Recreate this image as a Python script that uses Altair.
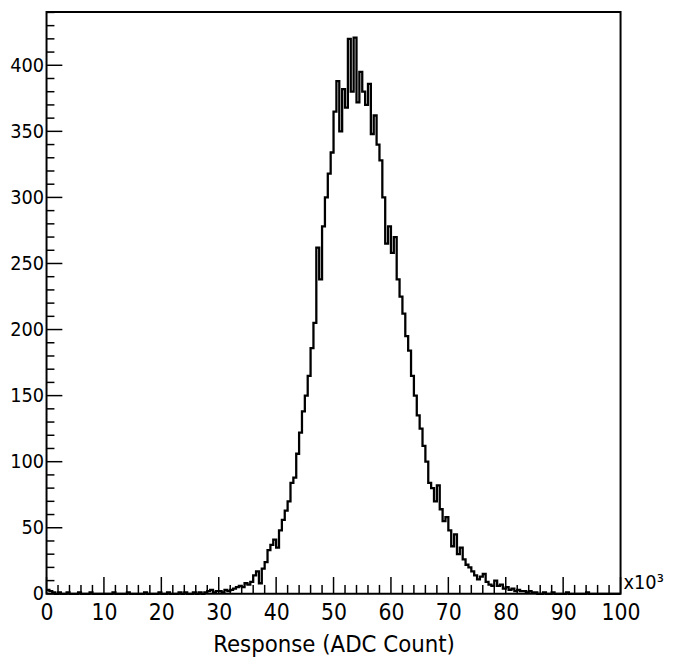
import altair as alt
import pandas as pd

# Histogram: 200 bins of width 0.5 (x10^3 ADC counts) from 0 to 100
bin_width = 0.5
counts = [
    # 0 - 10
    3, 2, 1, 0, 1, 0, 0, 1, 0, 0, 0, 1, 0, 0, 0, 1, 0, 0, 0, 0,
    # 10 - 20
    0, 0, 0, 1, 0, 0, 0, 0, 1, 0, 0, 0, 0, 0, 1, 0, 0, 0, 0, 1,
    # 20 - 28
    0, 0, 1, 0, 0, 0, 1, 0, 1, 0, 0, 1, 0, 1, 0, 1,
    # 28 - 86
    2, 3, 1, 2,
    2, 1, 3, 2,
    3, 4, 5, 6,
    5, 8, 7, 9,
    14, 17, 8, 19,
    24, 33, 37, 41,
    35, 48, 56, 63,
    70, 84, 88, 106,
    122, 138, 150, 165,
    186, 205, 262, 238,
    278, 300, 318, 334,
    365, 388, 350, 382,
    368, 420, 380, 421,
    372, 395, 380, 370,
    386, 348, 362, 340,
    328, 300, 265, 278,
    258, 270, 238, 225,
    212, 195, 184, 165,
    150, 135, 125, 112,
    100, 84, 80, 70,
    82, 64, 55, 58,
    48, 36, 45, 30,
    35, 26, 22, 20,
    17, 14, 11, 13,
    15, 9, 7, 6,
    10, 6, 7, 4,
    5, 3, 4, 2,
    3, 2, 2, 1,
    2, 1, 1, 0,
    # 86 - 100
    0, 1, 0, 0, 1, 0, 0, 0, 0, 1, 0, 0, 0, 0,
    0, 0, 1, 0, 0, 0, 0, 0, 0, 0, 0, 0, 0, 0,
]

x_major = [0, 10, 20, 30, 40, 50, 60, 70, 80, 90, 100]
x_minor = [v for v in range(0, 101, 2) if v % 10 != 0]
y_major = [0, 50, 100, 150, 200, 250, 300, 350, 400]
y_minor = [v for v in range(0, 441, 10) if v % 50 != 0]

x_domain = [0, 100]
y_domain = [0, 440.4]

W, H = 581, 589
FONT = "DejaVu Sans Condensed, Liberation Sans Narrow, Liberation Sans, sans-serif"

edges = [i * bin_width for i in range(len(counts) + 1)]
hist = pd.DataFrame({"x": edges, "count": counts + [counts[-1]]})

xs = alt.Scale(domain=x_domain, nice=False, zero=False)
ys = alt.Scale(domain=y_domain, nice=False)

line = alt.Chart(hist).mark_line(
    interpolate="step-after", color="black", strokeWidth=2.3
).encode(
    x=alt.X("x:Q", scale=xs,
            axis=alt.Axis(values=x_major, title="Response (ADC Count)",
                          ticks=False, domain=False, grid=False,
                          labelFont=FONT, labelFontSize=23, labelColor="black",
                          labelPadding=8, labelFlush=False,
                          titleFont=FONT, titleFontSize=24, titleFontWeight="normal",
                          titleColor="black", titlePadding=8)),
    y=alt.Y("count:Q", scale=ys,
            axis=alt.Axis(values=y_major, title=None, ticks=False, domain=False,
                          grid=False, labelFont=FONT, labelFontSize=20,
                          labelColor="black", labelPadding=3, labelFlush=False)),
)

xmaj = alt.Chart(pd.DataFrame({"v": x_major})).mark_rule(color="black", strokeWidth=1.5).encode(
    x=alt.X("v:Q", scale=xs), y=alt.value(H), y2=alt.value(H - 17))
xmin = alt.Chart(pd.DataFrame({"v": x_minor})).mark_rule(color="black", strokeWidth=1.5).encode(
    x=alt.X("v:Q", scale=xs), y=alt.value(H), y2=alt.value(H - 9))
ymaj = alt.Chart(pd.DataFrame({"v": y_major})).mark_rule(color="black", strokeWidth=1.5).encode(
    y=alt.Y("v:Q", scale=ys), x=alt.value(0), x2=alt.value(16))
ymin = alt.Chart(pd.DataFrame({"v": y_minor})).mark_rule(color="black", strokeWidth=1.5).encode(
    y=alt.Y("v:Q", scale=ys), x=alt.value(0), x2=alt.value(8))

exp_label = alt.Chart(pd.DataFrame({"t": ["x10³"]})).mark_text(
    align="left", baseline="bottom", font=FONT, fontSize=20, color="black"
).encode(text="t:N", x=alt.value(W + 3), y=alt.value(H - 1))

chart = alt.layer(line, xmaj, xmin, ymaj, ymin, exp_label).properties(
    width=W, height=H,
    autosize=alt.AutoSizeParams(type="none"),
    padding={"left": 39, "top": 0, "right": 46, "bottom": 60},
    background="white",
).configure_view(stroke="black", strokeWidth=2)

chart.save("out.html", embed_options={"renderer": "svg", "actions": False})
